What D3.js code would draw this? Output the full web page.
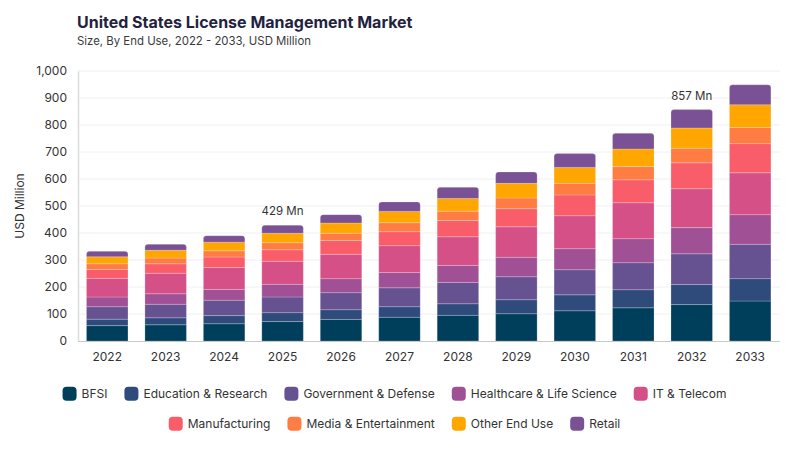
<!DOCTYPE html>
<html>
<head>
<meta charset="utf-8">
<script src="https://cdn.jsdelivr.net/npm/d3@7"></script>
<style>
  html, body { margin: 0; padding: 0; background: #fff; }
  svg { display: block; font-family: "Inter", "DejaVu Sans", sans-serif; }
</style>
</head>
<body>
<svg id="chart" width="800" height="450"></svg>
<script>
const years = ["2022","2023","2024","2025","2026","2027","2028","2029","2030","2031","2032","2033"];
const seriesNames = ["BFSI","Education & Research","Government & Defense","Healthcare & Life Science","IT & Telecom","Manufacturing","Media & Entertainment","Other End Use","Retail"];
const bfsi       = [57, 60, 64, 72, 80, 88, 95, 101, 112, 123, 135, 148];
const education  = [24, 26, 30, 33, 36, 39, 43, 52, 59, 67, 74, 83];
const government = [46, 50, 57, 58, 63, 70, 79, 85, 93, 100, 114, 127];
const healthcare = [36, 39, 40, 47, 52, 57, 63, 72, 78, 89, 97, 110];
const itTelecom  = [69, 76, 81, 85, 90, 99, 106, 113, 122, 133, 144, 155];
const manufacturing = [33, 35, 39, 43, 51, 52, 60, 67, 77, 85, 96, 108];
const media      = [21, 21, 23, 26, 27, 33, 35, 40, 43, 49, 54, 60];
const otherUse   = [26, 29, 32, 35, 38, 42, 47, 54, 59, 65, 75, 84];
const retail     = [20, 22, 24, 30, 31, 35, 41, 42, 51, 58, 68, 74];
const yTicks = [0, 100, 200, 300, 400, 500, 600, 700, 800, 900, 1000];
const annotations = [{year: "2025", label: "429 Mn"}, {year: "2032", label: "857 Mn"}];

const colors = ["#003f5c","#2f4b7c","#665191","#a05195","#d45087","#f95d6a","#ff7c43","#ffa600","#7a5195"];
const seriesValues = [bfsi, education, government, healthcare, itTelecom, manufacturing, media, otherUse, retail];

(function () {
const rows = years.map((yr, i) => {
  const r = {year: yr};
  seriesNames.forEach((s, k) => r[s] = seriesValues[k][i]);
  return r;
});
const stacked = d3.stack().keys(seriesNames)(rows);

const svg = d3.select("#chart");
const mLeft = 78, mRight = 780, mTop = 71, mBottom = 341;

const x = d3.scaleBand().domain(years).range([mLeft, mLeft + 12 * 58.45]).paddingInner(0.29).paddingOuter(0.145);
const y = d3.scaleLinear().domain([0, 1000]).range([mBottom, mTop]);

// Title
svg.append("text").attr("x", 77).attr("y", 28).attr("font-size", 16).attr("font-weight", 700)
  .attr("fill", "#1f2340").text("United States License Management Market");
svg.append("text").attr("x", 77).attr("y", 45).attr("font-size", 11.4).attr("fill", "#3a3a3a")
  .text("Size, By End Use, 2022 - 2033, USD Million");

// gridlines
svg.append("g").selectAll("line").data(yTicks.slice(1)).join("line")
  .attr("x1", mLeft).attr("x2", mRight)
  .attr("y1", d => y(d)).attr("y2", d => y(d))
  .attr("stroke", "#f0f0f0").attr("stroke-width", 1);

// y axis
const yAxis = svg.append("g").attr("transform", `translate(${mLeft},0)`)
  .call(d3.axisLeft(y).tickValues(yTicks).tickSize(0).tickPadding(11).tickFormat(d3.format(",")));
yAxis.select(".domain").attr("stroke", "#dcdcdc").attr("stroke-width", 1.5);
yAxis.selectAll("text").attr("font-size", 12).attr("fill", "#333").attr("font-family", "Inter, sans-serif");

svg.append("text").attr("transform", "translate(24,206) rotate(-90)").attr("text-anchor", "middle")
  .attr("font-size", 12).attr("fill", "#333").text("USD Million");

// bars
const topIndex = seriesNames.length - 1;
function segPath(x0, w, y0, y1, rounded) {
  const r = rounded ? Math.min(3, (y0 - y1)) : 0;
  return `M${x0},${y0}L${x0},${y1 + r}Q${x0},${y1} ${x0 + r},${y1}L${x0 + w - r},${y1}Q${x0 + w},${y1} ${x0 + w},${y1 + r}L${x0 + w},${y0}Z`;
}
svg.append("g").selectAll("g").data(stacked).join("g")
  .attr("fill", (d, i) => colors[i])
  .selectAll("path").data((d, i) => d.map(p => ({p, i}))).join("path")
  .attr("d", ({p, i}) => segPath(x(p.data.year), x.bandwidth(), y(p[0]), y(p[1]), i === topIndex))
  .attr("stroke", "rgba(255,255,255,0.35)").attr("stroke-width", 0.6);

// x axis baseline
svg.append("line").attr("x1", mLeft).attr("x2", mRight).attr("y1", mBottom + 0.5).attr("y2", mBottom + 0.5)
  .attr("stroke", "#c8c8c8").attr("stroke-width", 1.2);
const xAxis = svg.append("g").attr("transform", `translate(0,${mBottom})`)
  .call(d3.axisBottom(x).tickSize(0).tickPadding(11));
xAxis.select(".domain").remove();
xAxis.selectAll("text").attr("font-size", 12).attr("fill", "#333").attr("font-family", "Inter, sans-serif");

// annotations
const totals = years.map((yr, i) => seriesValues.reduce((s, arr) => s + arr[i], 0));
svg.append("g").selectAll("text").data(annotations).join("text")
  .attr("x", d => x(d.year) + x.bandwidth() / 2)
  .attr("y", d => y(totals[years.indexOf(d.year)]) - 10)
  .attr("text-anchor", "middle").attr("font-size", 11.5).attr("fill", "#333")
  .text(d => d.label);

// legend
const legendRows = [seriesNames.slice(0, 5), seriesNames.slice(5)];
const legendY = [393.7, 423.7];
const legendCenter = 394.5;
const itemGap = 17;
legendRows.forEach((names, ri) => {
  const g = svg.append("g");
  let cx = 0;
  names.forEach(name => {
    const idx = seriesNames.indexOf(name);
    const item = g.append("g").attr("transform", `translate(${cx},0)`);
    item.append("rect").attr("x", 0).attr("y", legendY[ri] - 7).attr("width", 14).attr("height", 14)
      .attr("rx", 4).attr("fill", colors[idx]);
    const t = item.append("text").attr("x", 19).attr("y", legendY[ri]).attr("dy", "0.35em")
      .attr("font-size", 12).attr("fill", "#333").text(name);
    cx += 19 + t.node().getComputedTextLength() + itemGap;
  });
  const total = cx - itemGap;
  g.attr("transform", `translate(${legendCenter - total / 2},0)`);
});
})();
</script>
</body>
</html>
